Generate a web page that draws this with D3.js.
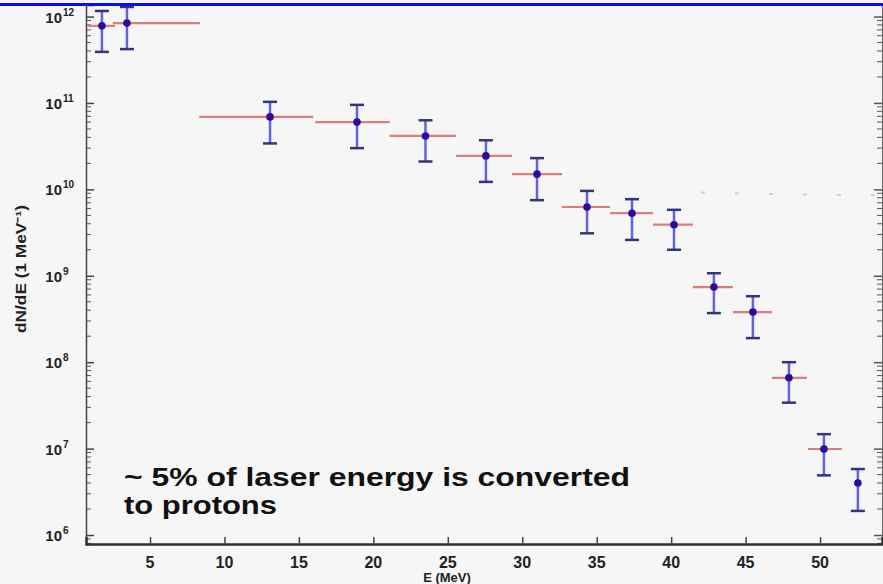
<!DOCTYPE html>
<html>
<head>
<meta charset="utf-8">
<script src="https://cdn.jsdelivr.net/npm/d3@7"></script>
<style>
  body { margin: 0; background: #f6f6f6; }
  svg { display: block; font-family: "Liberation Sans", Arial, sans-serif; }
</style>
</head>
<body>
<svg id="chart" width="883" height="584"></svg>
<script>
// proton spectrum
const energy   = [1.77, 3.45, 13.06, 18.9, 23.5, 27.56, 30.99, 34.35, 37.37, 40.19, 42.87, 45.49, 47.91, 50.26, 52.54]
const dNdE     = [7.8e11, 8.4e11, 6.9e10, 6.0e10, 4.15e10, 2.44e10, 1.5e10, 6.25e9, 5.3e9, 3.9e9, 7.4e8, 3.8e8, 6.6e7, 9.9e6, 4.0e6]
const errHigh  = [1.16e12, 1.29e12, 1.03e11, 9.5e10, 6.3e10, 3.7e10, 2.3e10, 9.6e9, 7.7e9, 5.8e9, 1.07e9, 5.8e8, 1.0e8, 1.47e7, 5.8e6]
const errLow   = [3.9e11, 4.2e11, 3.4e10, 3.0e10, 2.1e10, 1.22e10, 7.5e9, 3.1e9, 2.6e9, 2.0e9, 3.7e8, 1.9e8, 3.4e7, 4.9e6, 1.9e6]
const binLow   = [0.83, 2.5, 8.3, 16.1, 21.1, 25.55, 29.3, 32.67, 35.9, 38.78, 41.46, 44.15, 46.77, 49.19, null]
const binHigh  = [2.65, 8.35, 15.95, 21.1, 25.55, 29.3, 32.67, 35.9, 38.78, 41.46, 44.15, 46.77, 49.12, 51.47, null]

// faint dotted reference trace on the right
const refE = [42.0, 44.5, 47.0, 49.5, 52.0, 54.0]
const refY = [9.2e9, 9.0e9, 8.8e9, 8.7e9, 8.6e9, 8.6e9]

const xTicks = [5, 10, 15, 20, 25, 30, 35, 40, 45, 50]
const yTicks = [1e6, 1e7, 1e8, 1e9, 1e10, 1e11, 1e12]

const svg = d3.select("#chart")

const x = d3.scaleLinear().domain([0.7, 54.16]).range([86, 882])
const y = d3.scaleLog().domain([7.87e5, 1.36e12]).range([544, 5])

svg.append("rect").attr("width", 883).attr("height", 584).attr("fill", "#f6f6f6")

// y minor ticks (both sides)
const minor = []
for (let e = 5; e <= 12; e++) for (let m = 2; m <= 9; m++) {
  const v = m * Math.pow(10, e)
  if (v > 7.87e5 && v < 1.36e12) minor.push(v)
}
const tickCol = "#555"
minor.forEach(v => {
  svg.append("line").attr("x1", 86).attr("x2", 91).attr("y1", y(v)).attr("y2", y(v))
    .attr("stroke", tickCol).attr("stroke-width", 1)
  svg.append("line").attr("x1", 882).attr("x2", 877).attr("y1", y(v)).attr("y2", y(v))
    .attr("stroke", tickCol).attr("stroke-width", 1)
})

// left axis with major ticks
svg.append("g").attr("transform", "translate(86,0)")
  .call(d3.axisRight(y).tickValues(yTicks).tickSize(8).tickFormat(""))
  .call(g => g.select(".domain").attr("stroke", "#444").attr("stroke-width", 1.5))
  .call(g => g.selectAll(".tick line").attr("stroke", "#444").attr("stroke-width", 1.5))
svg.append("g").attr("transform", "translate(882,0)")
  .call(d3.axisLeft(y).tickValues(yTicks).tickSize(8).tickFormat(""))
  .call(g => g.select(".domain").attr("stroke", "#666"))
  .call(g => g.selectAll(".tick line").attr("stroke", "#555").attr("stroke-width", 1.5))

// y tick labels 10^n
yTicks.forEach(v => {
  const e = Math.round(Math.log10(v))
  svg.append("text").attr("x", 62).attr("y", y(v) + 6)
    .attr("text-anchor", "end").attr("font-size", 15).attr("font-weight", "bold").attr("fill", "#222")
    .text("10")
  svg.append("text").attr("x", 63).attr("y", y(v) - 1)
    .attr("font-size", 10).attr("font-weight", "bold").attr("fill", "#222")
    .text(String(e))
})

// x axis
svg.append("g").attr("transform", "translate(0,544)")
  .call(d3.axisTop(x).tickValues(xTicks).tickSize(7).tickFormat(""))
  .call(g => g.select(".domain").attr("stroke", "#333").attr("stroke-width", 2.5))
  .call(g => g.selectAll(".tick line").attr("stroke", "#444").attr("stroke-width", 1.5))
svg.append("g").selectAll("text").data(xTicks).join("text")
  .attr("x", d => x(d)).attr("y", 568).attr("text-anchor", "middle")
  .attr("font-size", 16).attr("font-weight", "bold").attr("fill", "#222")
  .text(d => d)

svg.append("text").attr("x", 447).attr("y", 582).attr("text-anchor", "middle")
  .attr("font-size", 13).attr("font-weight", "bold").attr("fill", "#222")
  .text("E (MeV)")

svg.append("text").attr("transform", "translate(26,269) rotate(-90)").attr("text-anchor", "middle")
  .attr("font-size", 14).attr("font-weight", "bold").attr("fill", "#222")
  .attr("textLength", 128).attr("lengthAdjust", "spacingAndGlyphs")
  .text("dN/dE (1 MeV⁻¹)")

// faint dotted trace
svg.append("path")
  .attr("d", d3.line().x(d => x(d[0])).y(d => y(d[1]))(refE.map((e, i) => [e, refY[i]])))
  .attr("fill", "none").attr("stroke", "#cfcfcf").attr("stroke-width", 2).attr("stroke-dasharray", "4,30")

// data
const pts = energy.map((e, i) => ({ e, v: dNdE[i], hi: errHigh[i], lo: errLow[i], b0: binLow[i], b1: binHigh[i] }))

const g = svg.append("g")
g.selectAll(".bin").data(pts.filter(d => d.b0 != null)).join("line")
  .attr("x1", d => x(d.b0)).attr("x2", d => x(d.b1))
  .attr("y1", d => y(d.v)).attr("y2", d => y(d.v))
  .attr("stroke", "#e07b7b").attr("stroke-width", 2.2)

g.selectAll(".err").data(pts).join("line")
  .attr("x1", d => x(d.e)).attr("x2", d => x(d.e))
  .attr("y1", d => y(d.hi)).attr("y2", d => y(d.lo))
  .attr("stroke", "#4a4ad8").attr("stroke-width", 2.5).attr("opacity", 0.85)

pts.forEach(d => {
  [d.hi, d.lo].forEach(v => {
    g.append("line").attr("x1", x(d.e) - 7).attr("x2", x(d.e) + 7)
      .attr("y1", y(v)).attr("y2", y(v))
      .attr("stroke", "#34347a").attr("stroke-width", 2.5)
  })
})

g.selectAll("circle").data(pts).join("circle")
  .attr("cx", d => x(d.e)).attr("cy", d => y(d.v)).attr("r", 3.8)
  .attr("fill", "#2a0ca0")

// annotation
svg.append("text").attr("x", 124).attr("y", 486)
  .attr("font-size", 25).attr("font-weight", "bold").attr("fill", "#111")
  .attr("textLength", 506).attr("lengthAdjust", "spacingAndGlyphs")
  .text("~ 5% of laser energy is converted")
svg.append("text").attr("x", 124).attr("y", 514)
  .attr("font-size", 25).attr("font-weight", "bold").attr("fill", "#111")
  .attr("textLength", 153).attr("lengthAdjust", "spacingAndGlyphs")
  .text("to protons")

// blue top border
svg.append("rect").attr("x", 0).attr("y", 3).attr("width", 883).attr("height", 3).attr("fill", "#0a0aff")
</script>
</body>
</html>
